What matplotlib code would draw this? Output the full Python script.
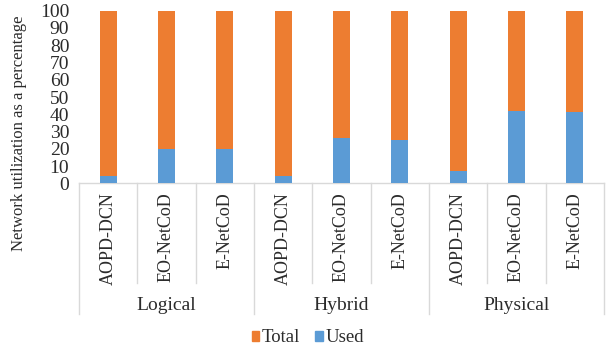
import matplotlib
matplotlib.use("Agg")
import matplotlib.pyplot as plt
from matplotlib.transforms import blended_transform_factory
from matplotlib.patches import Patch

plt.rcParams['font.family'] = ['Liberation Serif', 'DejaVu Serif']

groups = ["Logical", "Hybrid", "Physical"]
methods = ["AOPD-DCN", "EO-NetCoD", "E-NetCoD"]
used = [4.5, 20, 20, 4.5, 26.5, 25, 7, 41.7, 41.3]
total = [100, 100, 100, 100, 100, 100, 100, 100, 100]

ORANGE = "#ED7D31"
BLUE = "#5B9BD5"
GRID = "#D9D9D9"
TEXT = "#2B2B2B"

W, H = 607, 350
fig = plt.figure(figsize=(W / 100, H / 100), dpi=100)
ax = fig.add_axes([79 / W, 1 - 183.5 / H, (604 - 79) / W, (183.5 - 10.7) / H])

n = len(used)
x = [i + 0.5 for i in range(n)]
bw = 0.29
ax.bar(x, total, width=bw, color=ORANGE, zorder=2)
ax.bar(x, used, width=bw, color=BLUE, zorder=3)

ax.set_xlim(0, n)
ax.set_ylim(0, 100)
ax.set_yticks(range(0, 101, 10))
ax.tick_params(axis='y', length=0, pad=7, labelsize=14, labelcolor=TEXT)
ax.set_xticks([])
for s in ("left", "right", "top"):
    ax.spines[s].set_visible(False)
ax.spines["bottom"].set_color(GRID)
ax.spines["bottom"].set_linewidth(1.0)

ax.set_ylabel("Network utilization as a percentage", fontsize=12, color=TEXT)
ax.yaxis.set_label_coords(27 / W, 1 - 133 / H, transform=fig.transFigure)

# Two-level category axis drawn below the plot
tr = blended_transform_factory(ax.transData, fig.transFigure)
fy = lambda px: 1 - px / H
for i in range(n + 1):
    bottom = 314 if i % 3 == 0 else 283
    ax.plot([i, i], [fy(183.5), fy(bottom)], color=GRID, lw=1.0,
            transform=tr, clip_on=False)
names = [m for _ in groups for m in methods]
for xi, name in zip(x, names):
    ax.text(xi, fy(192), name, rotation=90, ha='center', va='top',
            fontsize=13, color=TEXT, transform=tr)
for g, name in enumerate(groups):
    ax.text(g * 3 + 1.5, fy(305), name, ha='center', va='center',
            fontsize=14, color=TEXT, transform=tr)

handles = [Patch(color=ORANGE, label="Total"), Patch(color=BLUE, label="Used")]
fig.legend(handles=handles, loc='center', bbox_to_anchor=(308 / W, fy(338)),
           ncol=2, frameon=False, fontsize=13.5, handlelength=0.4,
           handleheight=0.4, handletextpad=0.15, columnspacing=0.8,
           borderpad=0, labelcolor=TEXT)

fig.savefig("out.png", dpi=100)
